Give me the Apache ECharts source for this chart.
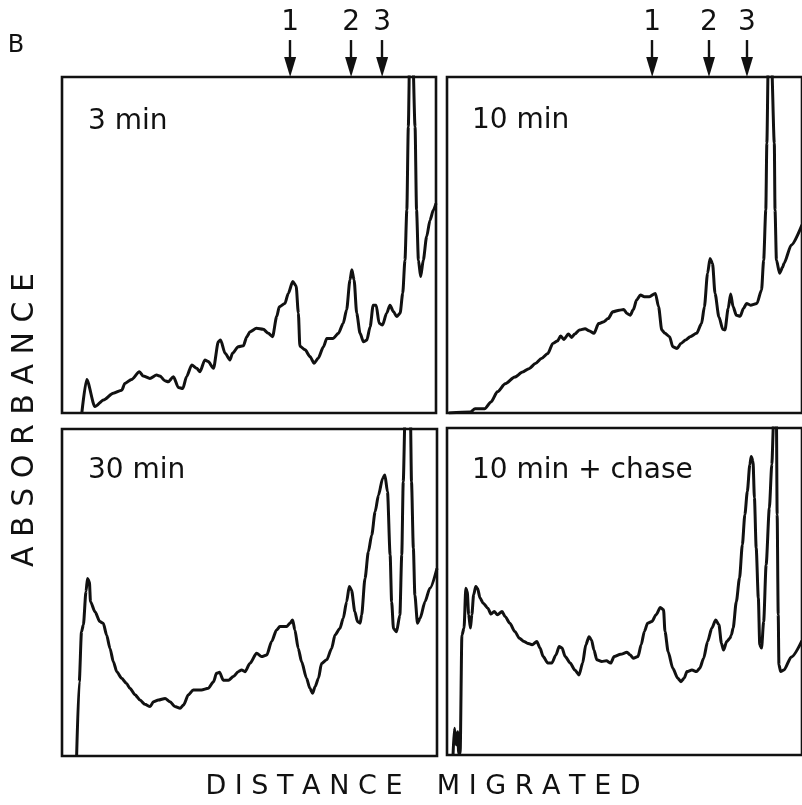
<!DOCTYPE html>
<html>
<head>
<meta charset="utf-8">
<script src="https://cdn.jsdelivr.net/npm/echarts@6/dist/echarts.min.js"></script>
<style>
  html, body { margin: 0; padding: 0; background: #fff; }
  #chart { width: 802px; height: 805px; }
</style>
</head>
<body>
<div id="chart"></div>
<script>
// densitometer traces, [distance migrated, absorbance], both on a 0-100 panel scale
var trace3min = [[5.3,0],[6.6,10.0],[8.8,1.9],[11.1,3.9],[13.7,5.9],[16.0,6.8],[16.8,8.8],[18.6,10.0],[20.7,12.3],[21.7,11.0],[23.5,10.3],[25.3,11.3],[26.2,11.0],[27.5,9.6],[28.4,9.3],[29.8,10.8],[31.1,7.6],[32.3,7.3],[33.3,10.8],[34.7,14.3],[36.0,13.3],[36.9,12.3],[38.2,15.8],[39.1,15.3],[40.5,13.3],[41.8,21.2],[42.4,21.7],[43.6,17.8],[44.9,15.8],[45.6,17.8],[47.1,19.7],[48.5,20.0],[49.4,22.7],[50.3,24.2],[52.0,25.2],[53.8,24.9],[55.2,23.7],[56.3,22.7],[57.4,28.7],[58.1,31.6],[59.6,32.6],[60.5,35.6],[61.7,39.1],[62.6,37.8],[63.2,29.7],[63.6,19.9],[65.0,18.8],[66.3,16.8],[67.4,14.8],[68.5,16.3],[69.9,19.7],[70.8,22.2],[72.5,22.2],[73.9,23.7],[75.2,26.7],[76.1,30.7],[77.0,39.6],[77.5,42.6],[78.1,39.6],[78.8,29.7],[79.7,23.7],[80.6,21.2],[81.5,21.7],[82.4,25.7],[83.2,32.1],[84.0,32.1],[84.8,26.7],[85.7,26.2],[86.8,29.7],[87.7,32.1],[88.6,30.2],[89.5,28.7],[90.4,29.7],[91.1,35.6],[91.7,45.5],[92.2,60.4],[92.6,85.2],[93.0,110],[93.4,140],[93.7,110],[94.4,85.2],[94.8,60.4],[95.3,45.5],[95.9,40.6],[96.6,45.5],[97.5,52.5],[98.4,57.4],[99.3,60.4],[100,62.4]];

var trace10min = [[0.5,0],[6.6,0.3],[7.9,1.3],[10.6,1.3],[12.4,3.3],[14.2,6.3],[16.4,8.7],[19.1,10.7],[21.3,12.2],[23.1,13.2],[24.9,14.7],[26.6,16.2],[28.4,17.7],[29.8,20.7],[31.1,21.4],[32.0,22.9],[32.9,21.9],[34.2,23.5],[35.1,22.5],[36.0,23.5],[37.3,24.7],[38.9,25.1],[40.0,24.5],[41.4,23.7],[42.7,26.6],[44.0,27.1],[45.4,28.1],[46.7,30.1],[48.5,30.6],[49.8,30.8],[50.7,29.6],[51.6,29.1],[52.5,30.8],[53.4,33.6],[54.5,35.1],[55.6,34.6],[57.0,34.6],[58.7,35.6],[59.6,31.6],[60.5,24.7],[61.4,23.7],[62.7,22.7],[63.6,19.7],[64.8,19.2],[65.9,20.7],[67.2,21.7],[68.5,22.7],[70.3,23.7],[71.7,26.6],[72.5,31.6],[73.4,41.6],[74.1,46.0],[74.8,44.5],[75.5,35.6],[76.6,28.6],[77.7,24.9],[78.3,24.7],[79.2,31.1],[79.9,35.4],[80.6,31.6],[81.5,29.1],[82.6,28.8],[83.5,31.1],[84.4,32.6],[85.5,32.1],[87.3,32.6],[88.6,36.6],[89.2,45.5],[89.8,60.4],[90.1,80.3],[90.5,105],[90.9,130],[91.4,105],[92.2,80.3],[92.4,60.4],[92.8,45.5],[93.7,41.6],[94.6,43.5],[94.9,44.5],[97,50],[100,56]];

var trace30min = [[3.9,0],[4.6,22.7],[5.2,38.0],[5.7,40.1],[6.4,50.3],[6.8,54.3],[7.3,53.3],[7.6,47.2],[8.8,44.1],[10.1,41.1],[11.0,40.6],[11.9,37.0],[12.8,32.9],[13.7,28.8],[14.6,25.8],[15.9,23.8],[17.2,22.2],[18.1,20.7],[19.5,18.7],[20.8,17.1],[22.1,15.8],[23.5,15.1],[24.4,16.6],[25.7,17.1],[27.5,17.6],[28.8,16.6],[30.1,15.1],[31.5,14.6],[32.4,15.6],[33.7,18.7],[35.0,20.2],[37.2,20.2],[39.0,20.7],[40.4,22.7],[41.2,25.3],[42.0,25.6],[43.0,23.2],[44.4,23.2],[45.7,24.3],[47.0,25.8],[47.9,26.3],[48.8,25.8],[50.1,28.3],[51.9,31.4],[53.2,30.4],[54.6,30.9],[55.9,35.0],[57.2,38.5],[58.1,39.6],[59.9,39.6],[60.8,40.6],[61.5,41.6],[62.1,38.5],[63.0,32.9],[63.9,28.8],[65.2,23.8],[66.1,20.7],[66.8,19.2],[67.5,21.2],[68.4,23.8],[69.2,28.3],[70.6,29.4],[71.9,32.9],[72.8,37.0],[74.1,39.0],[75.0,42.1],[75.9,47.2],[76.6,51.8],[77.2,50.8],[78.1,44.1],[78.8,41.1],[79.5,40.6],[79.9,43.1],[80.8,54.3],[81.7,62.5],[82.6,67.6],[83.5,74.7],[84.4,79.8],[85.5,84.9],[86.1,85.9],[86.8,80.8],[87.5,61.5],[87.9,47.2],[88.4,39.0],[89.2,38.0],[90.1,43.1],[90.6,61.5],[91.0,83.9],[91.5,105],[92.2,130],[92.9,105],[93.2,83.9],[93.7,63.5],[94.1,49.2],[94.8,40.6],[95.5,42.1],[96.8,47.2],[98.1,51.3],[100,57.4]];

var traceChase = [[1.7,0],[2.1,8.2],[2.6,3.1],[3.0,7.1],[3.3,0.5],[3.7,0.5],[4.2,36.7],[4.8,38.8],[5.3,51.0],[5.7,50.0],[6.1,42.9],[6.6,38.8],[7.0,42.9],[7.5,49.0],[8.1,51.5],[8.6,51.0],[9.3,48.0],[10.2,46.4],[11.5,44.9],[12.4,43.1],[13.3,43.9],[14.2,42.9],[15.5,43.9],[16.4,42.3],[17.7,40.3],[19.1,37.8],[20.4,35.7],[21.7,34.7],[22.6,34.2],[24.0,33.7],[25.3,34.7],[26.2,32.7],[27.1,30.1],[28.4,28.1],[29.5,28.1],[30.7,30.6],[31.6,33.2],[32.4,32.7],[33.3,30.1],[34.7,28.1],[36.0,26.0],[37.2,24.5],[38.2,28.1],[39.1,33.7],[40.0,36.2],[40.7,35.2],[41.4,32.1],[42.2,29.1],[43.6,28.6],[44.9,28.8],[46.1,28.1],[47.1,30.1],[48.9,30.8],[50.7,31.4],[51.6,30.6],[52.5,29.6],[53.8,30.1],[54.7,33.7],[55.6,37.8],[56.5,40.3],[57.7,40.8],[58.9,42.9],[60.1,45.1],[61.0,44.4],[61.4,37.8],[62.3,31.6],[63.6,26.5],[65.0,23.5],[65.9,22.4],[66.8,23.5],[67.6,25.5],[69.0,26.0],[70.3,25.5],[71.2,26.5],[72.3,29.6],[73.4,34.7],[74.6,38.8],[75.7,41.3],[76.6,39.8],[77.3,34.2],[77.9,32.1],[78.8,34.7],[79.7,35.7],[80.1,36.7],[80.6,38.8],[81.5,46.9],[82.4,54.1],[83.2,64.3],[83.9,73.5],[84.6,80.6],[85.3,88.8],[85.7,91.3],[86.2,89.8],[86.6,78.6],[87.1,63.3],[87.7,48.0],[88.1,33.7],[88.6,32.7],[89.2,40.8],[89.9,58.2],[90.8,75.5],[91.5,88.8],[92.0,102],[92.4,125],[92.8,102],[93.0,73.5],[93.3,42.9],[93.5,27.6],[94.0,25.5],[94.9,26.0],[97,30],[100,35]];

// band markers above the top panels
var bandLabels = ['1', '2', '3'];
var bandPos3min = [61.0, 77.3, 85.6];
var bandPos10min = [57.8, 73.8, 84.5];

var panelTitles = ['3 min', '10 min', '30 min', '10 min + chase'];

var ink = '#111';
var chart = echarts.init(document.getElementById('chart'));

// 4 panels + 2 strips for the arrows
var grids = [
  { left: 62, top: 77, width: 374, height: 336, show: true },
  { left: 447, top: 77, width: 374, height: 336, show: true },
  { left: 62, top: 429, width: 375, height: 327, show: true },
  { left: 447, top: 428, width: 374, height: 327, show: true },
  { left: 62, top: 0, width: 374, height: 77, show: false },
  { left: 447, top: 0, width: 374, height: 77, show: false }
];
grids.forEach(function (g) {
  g.borderColor = ink;
  g.borderWidth = 2.6;
  g.backgroundColor = '#fff';
});

var xAxes = grids.map(function (g, i) {
  return { gridIndex: i, type: 'value', min: 0, max: 100, show: false };
});
var yAxes = grids.map(function (g, i) {
  return { gridIndex: i, type: 'value', min: 0, max: 100, show: false };
});

var series = [trace3min, trace10min, trace30min, traceChase].map(function (t, i) {
  return {
    type: 'line',
    xAxisIndex: i,
    yAxisIndex: i,
    data: t,
    showSymbol: false,
    smooth: 0.25,
    smoothMonotone: 'x',
    clip: true,
    lineStyle: { color: ink, width: 3 }
  };
});

function bandSeries(idx, positions) {
  return {
    type: 'scatter',
    xAxisIndex: idx,
    yAxisIndex: idx,
    symbolSize: 1,
    itemStyle: { color: 'rgba(0,0,0,0)' },
    data: positions.map(function (x, k) { return [x, 71, bandLabels[k]]; }),
    label: {
      show: true,
      position: 'inside',
      formatter: function (p) { return p.value[2]; },
      color: ink,
      opacity: 1,
      textBorderWidth: 0,
      fontSize: 28,
      fontFamily: 'DejaVu Sans'
    },
    labelLayout: { hideOverlap: false },
    markLine: {
      silent: true,
      symbol: ['none', 'triangle'],
      symbolSize: [12, 20],
      label: { show: false },
      lineStyle: { color: ink, width: 2.4, type: 'solid' },
      data: positions.map(function (x) {
        return [{ coord: [x, 48] }, { coord: [x, 13] }];
      })
    }
  };
}
series.push(bandSeries(4, bandPos3min));
series.push(bandSeries(5, bandPos10min));

var textBase = { fill: ink, fontFamily: 'DejaVu Sans', textVerticalAlign: 'middle' };
function txt(x, y, text, size, align, rot) {
  return {
    type: 'text',
    x: x,
    y: y,
    rotation: rot || 0,
    z: 100,
    style: Object.assign({}, textBase, { text: text, fontSize: size, textAlign: align })
  };
}

chart.setOption({
  animation: false,
  backgroundColor: '#fff',
  grid: grids,
  xAxis: xAxes,
  yAxis: yAxes,
  series: series,
  graphic: [
    txt(16, 46, 'B', 24, 'center'),
    txt(88, 122, panelTitles[0], 28, 'left'),
    txt(472, 121, panelTitles[1], 28, 'left'),
    txt(88, 471, panelTitles[2], 28, 'left'),
    txt(472, 471, panelTitles[3], 28, 'left'),
    txt(25, 420, 'A B S O R B A N C E', 30, 'center', Math.PI / 2),
    txt(423, 787, 'D I S T A N C E    M I G R A T E D', 27, 'center')
  ]
});
</script>
</body>
</html>
